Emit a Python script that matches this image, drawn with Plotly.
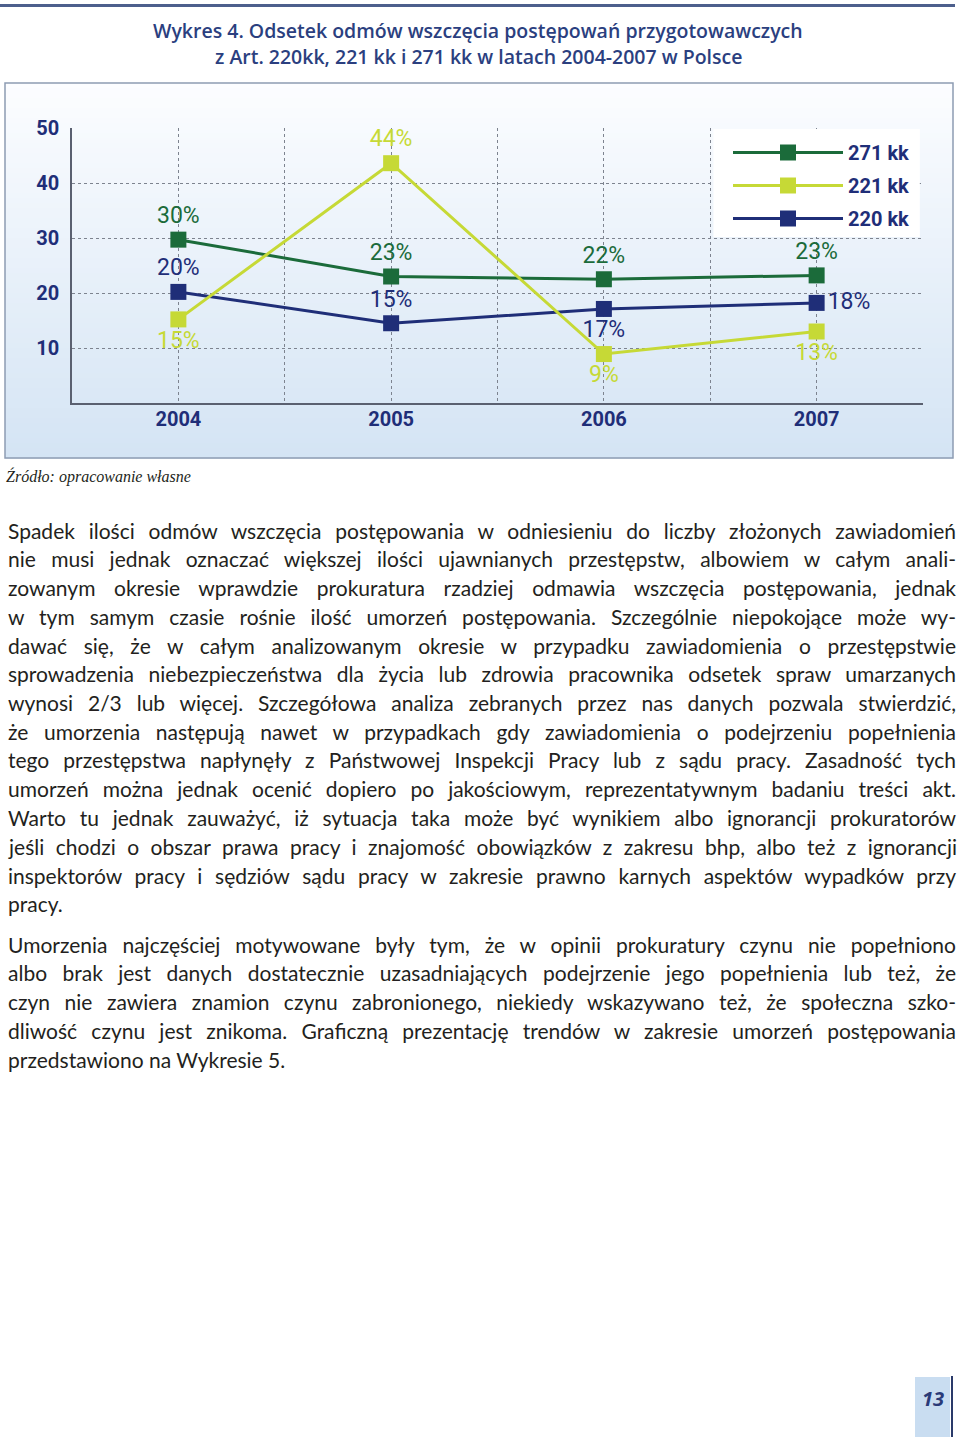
import plotly.graph_objects as go

# ---------------- data ----------------
years = [2004, 2005, 2006, 2007]
year_labels = ["2004", "2005", "2006", "2007"]
series_names = ["271 kk", "221 kk", "220 kk"]
v271 = [29.7, 23.0, 22.5, 23.2]
v221 = [15.2, 43.6, 8.9, 13.0]
v220 = [20.2, 14.5, 17.1, 18.2]
lab271 = ["30%", "23%", "22%", "23%"]
lab221 = ["15%", "44%", "9%", "13%"]
lab220 = ["20%", "15%", "17%", "18%"]
y_ticks = [10, 20, 30, 40, 50]

title_lines = [
    "Wykres 4. Odsetek odmów wszczęcia postępowań przygotowawczych",
    "z Art. 220kk, 221 kk i 271 kk w latach 2004-2007 w Polsce",
]
source_text = "Źródło: opracowanie własne"
para1 = [
    "Spadek ilości odmów wszczęcia postępowania w odniesieniu do liczby złożonych zawiadomień",
    "nie musi jednak oznaczać większej ilości ujawnianych przestępstw, albowiem w całym anali-",
    "zowanym okresie wprawdzie prokuratura rzadziej odmawia wszczęcia postępowania, jednak",
    "w tym samym czasie rośnie ilość umorzeń postępowania. Szczególnie niepokojące może wy-",
    "dawać się, że w całym analizowanym okresie w przypadku zawiadomienia o przestępstwie",
    "sprowadzenia niebezpieczeństwa dla życia lub zdrowia pracownika odsetek spraw umarzanych",
    "wynosi 2/3 lub więcej. Szczegółowa analiza zebranych przez nas danych pozwala stwierdzić,",
    "że umorzenia następują nawet w przypadkach gdy zawiadomienia o podejrzeniu popełnienia",
    "tego przestępstwa napłynęły z Państwowej Inspekcji Pracy lub z sądu pracy. Zasadność tych",
    "umorzeń można jednak ocenić dopiero po jakościowym, reprezentatywnym badaniu treści akt.",
    "Warto tu jednak zauważyć, iż sytuacja taka może być wynikiem albo ignorancji prokuratorów",
    "jeśli chodzi o obszar prawa pracy i znajomość obowiązków z zakresu bhp, albo też z ignorancji",
    "inspektorów pracy i sędziów sądu pracy w zakresie prawno karnych aspektów wypadków przy",
    "pracy.",
]
para2 = [
    "Umorzenia najczęściej motywowane były tym, że w opinii prokuratury czynu nie popełniono",
    "albo brak jest danych dostatecznie uzasadniających podejrzenie jego popełnienia lub też, że",
    "czyn nie zawiera znamion czynu zabronionego, niekiedy wskazywano też, że społeczna szko-",
    "dliwość czynu jest znikoma. Graficzną prezentację trendów w zakresie umorzeń postępowania",
    "przedstawiono na Wykresie 5.",
]
page_number = "13"

# ---------------- styles ----------------
GREEN = "#1b6b3a"
LIME = "#c6d936"
NAVY = "#1f2e78"
TXT = "#231f20"
COND = "Roboto, 'Liberation Sans Narrow', sans-serif"
BODY = "Lato, 'Open Sans', sans-serif"

W, H = 960, 1439
L, R, T, B = 72, 923, 128, 403


def px(x):
    return (x - L) / (R - L)


def py(y):
    return (B - y) / (B - T)


fig = go.Figure()

trace_specs = [
    (series_names[2], v220, lab220, NAVY, ["top center", "top center", "bottom center", "middle right"], 3),
    (series_names[0], v271, lab271, GREEN, ["top center"] * 4, 1),
    (series_names[1], v221, lab221, LIME, ["bottom center", "top center", "bottom center", "bottom center"], 2),
]
for name, vals, labs, col, pos, rank in trace_specs:
    fig.add_trace(go.Scatter(
        x=years, y=vals, name=name, legendrank=rank, legendgroup=name,
        mode="lines+markers+text",
        line=dict(color=col, width=3),
        marker=dict(symbol="square", size=16, color=col),
        text=labs, textposition=pos,
        textfont=dict(family=COND, size=23, color=col),
        cliponaxis=False,
    ))

shapes = []
# chart panel gradient background
top_c = (252, 253, 255)
bot_c = (212, 228, 244)
y0p, y1p = 83, 458
N = 75
step = (y1p - y0p) / N
for i in range(N):
    f = (i + 0.5) / N
    c = tuple(round(top_c[k] + (bot_c[k] - top_c[k]) * f) for k in range(3))
    shapes.append(dict(
        type="rect", xref="paper", yref="paper", layer="below",
        x0=px(5), x1=px(953), y0=py(y0p + i * step), y1=py(y0p + (i + 1) * step + 0.6),
        fillcolor="rgb(%d,%d,%d)" % c, line=dict(width=0),
    ))
# panel border
shapes.append(dict(type="rect", xref="paper", yref="paper", layer="below",
                   x0=px(5), x1=px(953), y0=py(458), y1=py(83),
                   line=dict(color="#8d9cb3", width=1.5), fillcolor="rgba(0,0,0,0)"))
# legend white box
shapes.append(dict(type="rect", xref="x", yref="y", layer="between",
                   x0=2006.515, x1=2007.485, y0=30.2, y1=49.8,
                   fillcolor="white", line=dict(width=0)))
# top rule
shapes.append(dict(type="line", xref="paper", yref="paper",
                   x0=px(0), x1=px(955), y0=py(5.5), y1=py(5.5),
                   line=dict(color="#4d5f8c", width=3)))
# page number box
shapes.append(dict(type="rect", xref="paper", yref="paper",
                   x0=px(915), x1=px(950), y0=py(1437), y1=py(1377),
                   fillcolor="#c9ddf1", line=dict(width=0)))
shapes.append(dict(type="line", xref="paper", yref="paper",
                   x0=px(952), x1=px(952), y0=py(1437), y1=py(1376),
                   line=dict(color="#2a3a6a", width=2)))

annotations = []
for i, t in enumerate(title_lines):
    annotations.append(dict(
        text=t, xref="paper", yref="paper", x=px(478), y=py(31 + 25 * i),
        xanchor="center", yanchor="middle", showarrow=False,
        font=dict(family="'Open Sans', sans-serif", size=19.5, color="#2b3f7f", weight=600),
    ))
annotations.append(dict(
    text=source_text, xref="paper", yref="paper", x=px(4), y=py(476),
    xanchor="left", yanchor="middle", showarrow=False,
    font=dict(family="'Liberation Serif', 'DejaVu Serif', serif", size=16, color=TXT, style="italic"),
))

justify_idx = []
LINE = 28.75
for lines, y_start in ((para1, 530), (para2, 944)):
    for j, t in enumerate(lines):
        if j < len(lines) - 1:
            justify_idx.append(len(annotations))
        annotations.append(dict(
            text=t, xref="paper", yref="paper", x=px(6), y=py(y_start + j * LINE),
            xanchor="left", yanchor="middle", align="left", showarrow=False,
            font=dict(family=BODY, size=21, color=TXT),
        ))
annotations.append(dict(
    text=page_number, xref="paper", yref="paper", x=px(933), y=py(1398),
    xanchor="center", yanchor="middle", showarrow=False,
    font=dict(family="'Open Sans', sans-serif", size=20, color="#2a3a78", weight="bold", style="italic"),
))

xt_vals = [2003.5, 2004, 2004.5, 2005, 2005.5, 2006, 2006.5, 2007, 2007.5]
xt_text = ["", year_labels[0], "", year_labels[1], "", year_labels[2], "", year_labels[3], ""]

fig.update_layout(
    width=W, height=H,
    margin=dict(l=L, r=W - R, t=T, b=H - B, pad=0),
    paper_bgcolor="white", plot_bgcolor="rgba(0,0,0,0)",
    showlegend=True,
    legend=dict(
        x=px(728), y=py(133), xanchor="left", yanchor="top",
        bgcolor="rgba(0,0,0,0)", itemwidth=110, tracegroupgap=4,
        font=dict(family=COND, size=20, color=NAVY, weight="bold"),
        traceorder="grouped",
    ),
    xaxis=dict(
        range=[2003.5, 2007.5], tickvals=xt_vals, ticktext=xt_text,
        showgrid=True, gridcolor="#7d838f", griddash="dot", gridwidth=1,
        showline=True, linecolor="#5a6070", linewidth=1.5,
        ticks="", zeroline=False, ticklabelstandoff=-3,
        tickfont=dict(family=COND, size=20, color=NAVY, weight="bold"),
    ),
    yaxis=dict(
        range=[0, 50], tickvals=y_ticks,
        showgrid=True, gridcolor="#7d838f", griddash="dot", gridwidth=1,
        showline=True, linecolor="#5a6070", linewidth=1.5,
        ticks="", zeroline=False, ticklabelstandoff=7,
        tickfont=dict(family=COND, size=20, color=NAVY, weight="bold"),
    ),
    shapes=shapes, annotations=annotations,
)

post = """
document.documentElement.style.margin = '0';
document.body.style.margin = '0';
document.body.style.padding = '0';
var gd = document.getElementById('{plot_id}');
var idx = %s;
idx.forEach(function(i){
  var g = gd.querySelector('g.annotation[data-index="' + i + '"]');
  if(!g) return;
  var t = g.querySelector('text.annotation-text');
  if(!t) return;
  var n = (t.textContent.match(/ /g) || []).length;
  if(!n) return;
  var w = t.getComputedTextLength();
  t.style.wordSpacing = ((%f - w) / n) + 'px';
});
""" % (str(justify_idx), 948.0)

fig.write_html("out.html", post_script=post, config={"displayModeBar": False})
